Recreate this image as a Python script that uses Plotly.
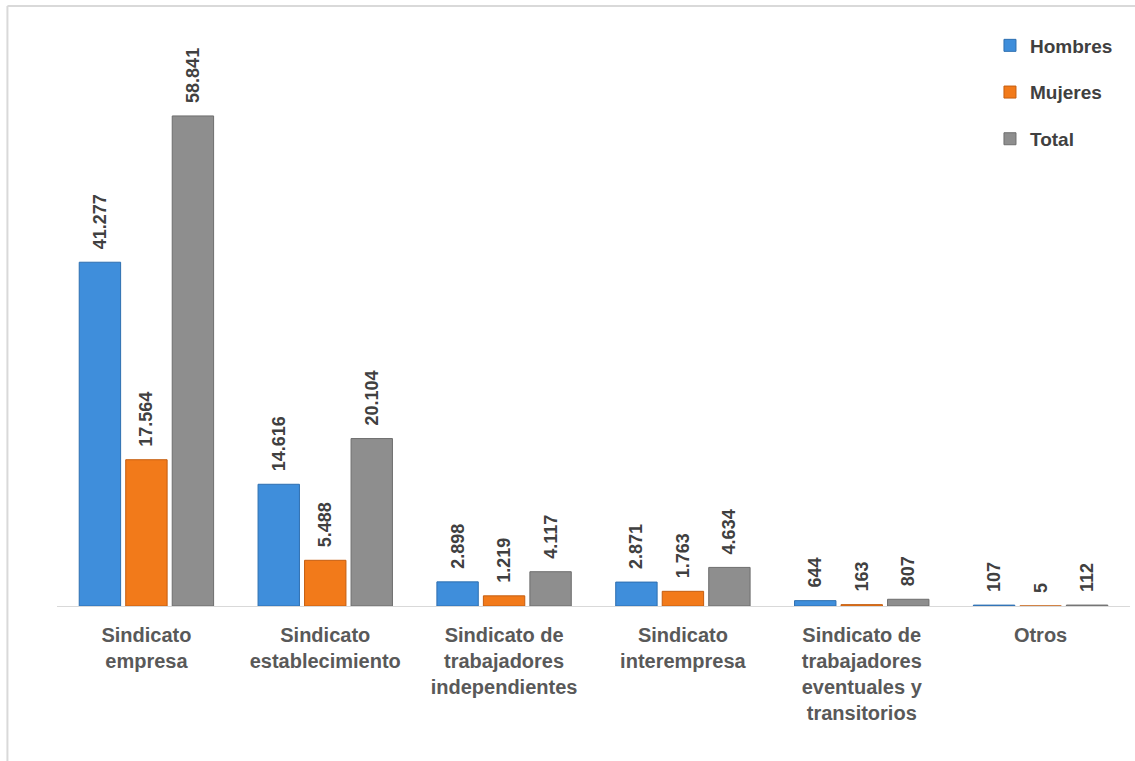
import plotly.graph_objects as go

categories = [
    "Sindicato<br>empresa",
    "Sindicato<br>establecimiento",
    "Sindicato de<br>trabajadores<br>independientes",
    "Sindicato<br>interempresa",
    "Sindicato de<br>trabajadores<br>eventuales y<br>transitorios",
    "Otros",
]
hombres = [41277, 14616, 2898, 2871, 644, 107]
mujeres = [17564, 5488, 1219, 1763, 163, 5]
total = [58841, 20104, 4117, 4634, 807, 112]

series = [
    ("Hombres", hombres, "#3F8EDB", "#2E6FB0", "g1"),
    ("Mujeres", mujeres, "#F27A1A", "#C55E10", "g2"),
    ("Total", total, "#8E8E8E", "#6E6E6E", "g3"),
]

fig = go.Figure()
for name, vals, col, edge, grp in series:
    fig.add_trace(go.Bar(
        x=categories, y=vals, name=name, legendgroup=grp,
        marker=dict(color=col, line=dict(color=edge, width=1)),
        texttemplate="\u00a0\u00a0<b>%{y:,}</b>", textposition="outside", textangle=-90,
        textfont=dict(family="Liberation Sans", size=18, color="#404040"),
        constraintext="none",
        cliponaxis=False,
    ))

fig.update_layout(
    width=1135, height=761,
    margin=dict(l=57, r=5, t=23, b=155),
    paper_bgcolor="white", plot_bgcolor="white",
    barmode="group", bargap=0.22, bargroupgap=0.11,
    separators=",.",
    showlegend=True,
    legend=dict(
        x=0.8695, y=0.994, xanchor="left", yanchor="top",
        font=dict(family="Liberation Sans", size=19, color="#404040", weight="bold"),
        tracegroupgap=19, traceorder="grouped", bgcolor="rgba(0,0,0,0)",
    ),
    xaxis=dict(
        showline=True, linecolor="#D9D9D9", linewidth=1,
        ticks="", showgrid=False,
        tickfont=dict(family="Liberation Sans", size=20, color="#595959", weight="bold"),
        ticklabelstandoff=11,
    ),
    yaxis=dict(range=[0, 70000], visible=False, showgrid=False),
    shapes=[
        dict(type="line", xref="paper", yref="paper", x0=-0.0462, x1=1.01, y0=1.0293, y1=1.0293,
             line=dict(color="#D9D9D9", width=2)),
        dict(type="line", xref="paper", yref="paper", x0=-0.0462, x1=-0.0462, y0=1.0293, y1=-0.3,
             line=dict(color="#D9D9D9", width=2)),
    ],
)

fig.write_html("out.html", config={"displayModeBar": False},
               post_script="document.body.style.margin='0';")
